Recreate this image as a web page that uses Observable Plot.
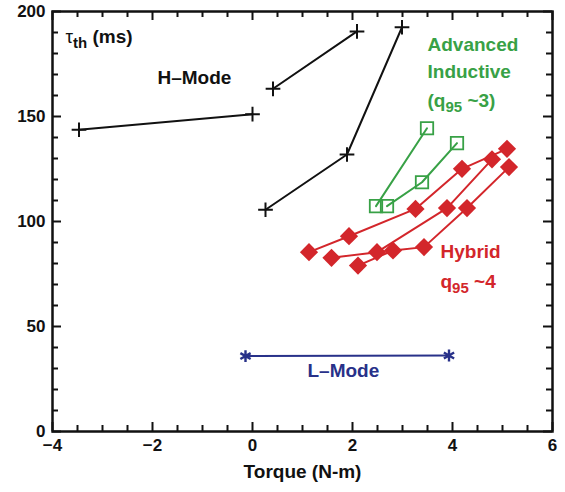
<!DOCTYPE html>
<html><head><meta charset="utf-8">
<script src="https://cdn.jsdelivr.net/npm/d3@7"></script>
<script src="https://cdn.jsdelivr.net/npm/@observablehq/plot@0.6"></script>
<style>
body{margin:0;background:#fff;}
#chart svg{display:block;}
</style>
</head><body><div id="chart"></div>
<script>
// ---------- data ----------
const hModeSeries = ["h1","h1","h2","h2","h3","h3","h3"];
const hModeTorque = [-3.47, 0.00, 0.41, 2.09, 0.26, 1.89, 2.99];
const hModeTau    = [143.7, 151.1, 163.2, 190.5, 105.6, 131.9, 192.5];

const aiSeries = ["a1","a1","a2","a2","a2"];
const aiTorque = [2.47, 3.49, 2.69, 3.39, 4.09];
const aiTau    = [107.3, 144.4, 107.3, 118.7, 137.3];

const hybridSeries = ["r1","r1","r1","r1","r1","r2","r2","r2","r2","r3","r3","r3","r3","r3"];
const hybridTorque = [1.13, 1.93, 3.26, 4.19, 5.09, 1.58, 2.49, 3.89, 4.79, 2.11, 2.81, 3.43, 4.29, 5.13];
const hybridTau    = [85.4, 93.0, 106.0, 125.1, 134.6, 82.7, 85.4, 106.4, 129.6, 79.0, 86.2, 87.8, 106.4, 125.9];

const lModeTorque = [-0.14, 3.93];
const lModeTau    = [35.9, 36.2];

const xMajorTicks = [-4, -2, 0, 2, 4, 6];
const xMinorTicks = d3.range(-4, 6.01, 0.5);
const yMajorTicks = [0, 50, 100, 150, 200];
const yMinorTicks = d3.range(0, 200.1, 10);

const xTitle = "Torque (N-m)";
const annText  = ["τ_{th} (ms)", "H–Mode", "Advanced", "Inductive", "(q_{95} ~3)", "Hybrid", "q_{95} ~4", "L–Mode"];
const annX     = [-3.74, -1.9, 3.5, 3.5, 3.5, 3.76, 3.76, 1.1];
const annY     = [188.1, 168.2, 184.3, 171.0, 157.6, 85.5, 71.2, 28.8];
const annGroup = ["axis", "h", "ai", "ai", "ai", "hy", "hy", "l"];

// ---------- styles ----------
const BLACK = "#111111", GREEN = "#38a146", RED = "#d3262b", BLUE = "#283189";
const colorOf = {axis: BLACK, h: BLACK, ai: GREEN, hy: RED, l: BLUE};

// ---------- tables ----------
const rows = (s, x, y) => x.map((v, i) => ({series: s ? s[i] : "s", torque: v, tau: y[i]}));
const hRows = rows(hModeSeries, hModeTorque, hModeTau);
const aiRows = rows(aiSeries, aiTorque, aiTau);
const hyRows = rows(hybridSeries, hybridTorque, hybridTau);
const lRows = rows(null, lModeTorque, lModeTau);
const annRows = annText.map((t, i) => ({text: t, torque: annX[i], tau: annY[i], color: colorOf[annGroup[i]]}));

const W = 565, H = 492, mL = 52, mR = 13, mT = 11, mB = 61;
const pW = W - mL - mR, pH = H - mT - mB;
const xDom = [-4, 6], yDom = [0, 200];
// tick lengths (px) converted to data units of the scales
const xu = px => px * (xDom[1] - xDom[0]) / pW;
const yu = px => px * (yDom[1] - yDom[0]) / pH;
const minorX = xMinorTicks.filter(d => !xMajorTicks.includes(d));
const minorY = yMinorTicks.filter(d => !yMajorTicks.includes(d));
const tickStyle = {stroke: BLACK, strokeWidth: 2};
const MINOR = 6, MAJOR = 9;

const chart = Plot.plot({
  width: W, height: H,
  marginLeft: mL, marginRight: mR, marginTop: mT, marginBottom: mB,
  x: {domain: xDom, label: null},
  y: {domain: yDom, label: null},
  style: {fontFamily: "'Liberation Sans', Arial, Helvetica, sans-serif", fontSize: "17px", fontWeight: "bold", color: BLACK, background: "#fff"},
  marks: [
    // inward ticks on all four sides
    Plot.ruleX(minorX, {x: d => d, y1: yDom[0], y2: yDom[0] + yu(MINOR), ...tickStyle}),
    Plot.ruleX(xMajorTicks, {x: d => d, y1: yDom[0], y2: yDom[0] + yu(MAJOR), ...tickStyle}),
    Plot.ruleX(minorX, {x: d => d, y1: yDom[1] - yu(MINOR), y2: yDom[1], ...tickStyle}),
    Plot.ruleX(xMajorTicks, {x: d => d, y1: yDom[1] - yu(MAJOR), y2: yDom[1], ...tickStyle}),
    Plot.ruleY(minorY, {y: d => d, x1: xDom[0], x2: xDom[0] + xu(MINOR), ...tickStyle}),
    Plot.ruleY(yMajorTicks, {y: d => d, x1: xDom[0], x2: xDom[0] + xu(MAJOR), ...tickStyle}),
    Plot.ruleY(minorY, {y: d => d, x1: xDom[1] - xu(MINOR), x2: xDom[1], ...tickStyle}),
    Plot.ruleY(yMajorTicks, {y: d => d, x1: xDom[1] - xu(MAJOR), x2: xDom[1], ...tickStyle}),

    // series
    Plot.line(hRows, {x: "torque", y: "tau", z: "series", stroke: BLACK, strokeWidth: 2}),
    Plot.dot(hRows, {x: "torque", y: "tau", symbol: "plus", r: 4.8, stroke: BLACK, fill: "none", strokeWidth: 2}),

    Plot.line(aiRows, {x: "torque", y: "tau", z: "series", stroke: GREEN, strokeWidth: 2}),
    Plot.dot(aiRows, {x: "torque", y: "tau", symbol: "square", r: 7.0, stroke: GREEN, fill: "none", strokeWidth: 1.8}),

    Plot.line(hyRows, {x: "torque", y: "tau", z: "series", stroke: RED, strokeWidth: 2}),
    Plot.dot(hyRows, {x: "torque", y: "tau", symbol: d3.symbolDiamond2, r: 8.2, fill: RED, stroke: "none"}),

    Plot.line(lRows, {x: "torque", y: "tau", stroke: BLUE, strokeWidth: 2}),
    Plot.dot(lRows, {x: "torque", y: "tau", symbol: "asterisk", r: 5.6, stroke: BLUE, fill: "none", strokeWidth: 2.4}),

    Plot.frame({stroke: BLACK, strokeWidth: 2.5}),
    Plot.axisX({ticks: xMajorTicks, tickSize: 0, tickPadding: 7, label: null, fontSize: 17}),
    Plot.axisY({ticks: yMajorTicks, tickSize: 0, tickPadding: 7, label: null, fontSize: 17}),
    Plot.text([xTitle], {text: d => d, frameAnchor: "bottom", dy: 46, fontSize: 19, fill: BLACK}),
    Plot.text(annRows, {x: "torque", y: "tau", text: "text", fill: "color", textAnchor: "start", fontSize: 19})
  ]
});

// render "_{...}" as subscripts, and the Greek tau in regular weight
const NS = "http://www.w3.org/2000/svg";
chart.querySelectorAll("text").forEach(t => {
  if (t.querySelector("tspan")) return;
  const s = t.textContent;
  if (!s.includes("_{")) return;
  const parts = s.split(/(_\{[^}]*\})/).filter(p => p);
  t.textContent = "";
  let shifted = false;
  for (const p of parts) {
    const ts = document.createElementNS(NS, "tspan");
    if (p.startsWith("_{")) {
      ts.textContent = p.slice(2, -1);
      ts.setAttribute("dy", "5");
      ts.setAttribute("font-size", "15");
      shifted = true;
      t.appendChild(ts);
    } else {
      if (shifted) { ts.setAttribute("dy", "-5"); shifted = false; }
      if (p.startsWith("τ")) {
        ts.textContent = "τ";
        ts.setAttribute("font-weight", "normal");
        t.appendChild(ts);
        const rest = p.slice(1);
        if (rest) { const r2 = document.createElementNS(NS, "tspan"); r2.textContent = rest; t.appendChild(r2); }
      } else {
        ts.textContent = p;
        t.appendChild(ts);
      }
    }
  }
});
document.getElementById("chart").appendChild(chart);
</script>
</body></html>
